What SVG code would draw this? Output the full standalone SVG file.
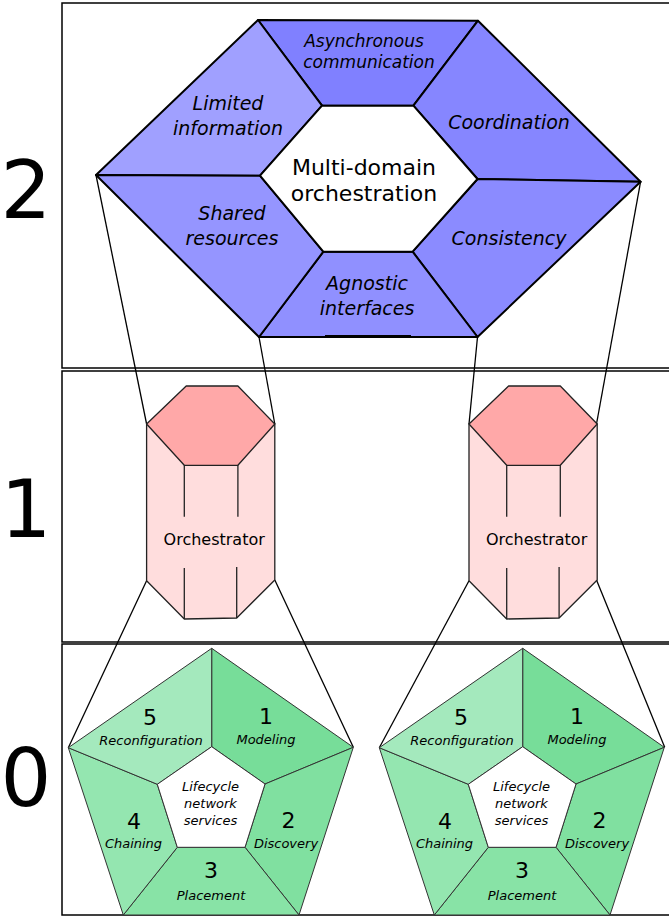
<svg xmlns="http://www.w3.org/2000/svg" width="669" height="916" viewBox="0 0 669 916">
<style>
.panel{fill:#fff;stroke:#000;stroke-width:1.5}
.hex{stroke:#000;stroke-width:2;stroke-linejoin:round}
.orc{stroke:#222;stroke-width:1.3;stroke-linejoin:round}
.pen{stroke:#333;stroke-width:1}
.conn{fill:none;stroke:#000;stroke-width:1.3}
text{font-family:"DejaVu Sans","Liberation Sans",sans-serif;fill:#000;text-anchor:middle}
.it{font-style:italic}
.lvl{font-size:80px}
.h{font-size:19px}
.ha{font-size:17px}
.hm{font-size:22px}
.o{font-size:16px}
.pn{font-size:22px}
.pl{font-size:13px}
</style>
<rect width="669" height="916" fill="#fff"/>
<g id="panels">
<rect class="panel" x="62" y="3" width="620" height="365"/>
<rect class="panel" x="62" y="371" width="620" height="271"/>
<rect class="panel" x="62" y="644" width="620" height="271"/>
</g>
<g id="levels">
<text class="lvl" x="26" y="218">2</text>
<text class="lvl" x="26" y="537">1</text>
<text class="lvl" x="26" y="806">0</text>
</g>
<g id="connectors">
<line class="conn" x1="96" y1="175" x2="146.6" y2="424"/>
<line class="conn" x1="259" y1="337" x2="274.8" y2="424"/>
<line class="conn" x1="477.5" y1="337" x2="469" y2="424"/>
<line class="conn" x1="640.6" y1="181.7" x2="596.5" y2="424"/>
<line class="conn" x1="146.6" y1="580.7" x2="68.3" y2="747.7"/>
<line class="conn" x1="274.8" y1="580" x2="353.3" y2="747.3"/>
<line class="conn" x1="469" y1="580.7" x2="379.3" y2="747.7"/>
<line class="conn" x1="596.5" y1="580" x2="664.7" y2="747.3"/>
</g>
<g id="multi-domain">
<polygon class="hex" fill="#8080ff" points="258,20 478,20.7 413.4,105.7 322,105.7"/>
<polygon class="hex" fill="#a0a0ff" points="258,20 322,105.7 260,175.7 96,175"/>
<polygon class="hex" fill="#8686ff" points="478,20.7 640.6,181.7 477.5,179 413.4,105.7"/>
<polygon class="hex" fill="#8b8bff" points="640.6,181.7 477.5,337 412.6,251.7 477.5,179"/>
<polygon class="hex" fill="#9090ff" points="477.5,337 259,337 323.3,251.7 412.6,251.7"/>
<polygon class="hex" fill="#9595ff" points="259,337 96,175 260,175.7 323.3,251.7"/>
<polygon class="hex" fill="#fff" points="322,105.7 413.4,105.7 477.5,179 412.6,251.7 323.3,251.7 260,175.7"/>
<line x1="325" y1="336" x2="411" y2="336" stroke="#000" stroke-width="2"/>
<text class="it ha" x="364" y="47">Asynchronous</text>
<text class="it ha" x="369" y="68">communication</text>
<text class="it h" x="228" y="110">Limited</text>
<text class="it h" x="228" y="135">information</text>
<text class="it h" x="509" y="129">Coordination</text>
<text class="hm" x="364" y="175">Multi-domain</text>
<text class="hm" x="364" y="201">orchestration</text>
<text class="it h" x="232" y="220">Shared</text>
<text class="it h" x="232" y="245">resources</text>
<text class="it h" x="509" y="245">Consistency</text>
<text class="it h" x="367" y="290">Agnostic</text>
<text class="it h" x="367" y="315">interfaces</text>
</g>
<g id="orchestrator-left">
<polygon class="orc" fill="#ffdddd" points="146.6,424 274.8,424 274.8,580 236.7,618 184.3,619 146.6,580.7"/>
<polygon class="orc" fill="#ffa8a8" points="186.2,386 237.9,386 274.8,424 237.9,465.3 184.3,465.3 146.6,424"/>
<line class="orc" x1="184.3" y1="465.3" x2="184.3" y2="516.7"/>
<line class="orc" x1="237.9" y1="465.3" x2="237.9" y2="516.7"/>
<line class="orc" x1="184.3" y1="568" x2="184.3" y2="619"/>
<line class="orc" x1="236.7" y1="567" x2="236.7" y2="618"/>
<text class="o" x="214.2" y="545">Orchestrator</text>
</g>
<g id="orchestrator-right" transform="translate(322.4,0)">
<polygon class="orc" fill="#ffdddd" points="146.6,424 274.8,424 274.8,580 236.7,618 184.3,619 146.6,580.7"/>
<polygon class="orc" fill="#ffa8a8" points="186.2,386 237.9,386 274.8,424 237.9,465.3 184.3,465.3 146.6,424"/>
<line class="orc" x1="184.3" y1="465.3" x2="184.3" y2="516.7"/>
<line class="orc" x1="237.9" y1="465.3" x2="237.9" y2="516.7"/>
<line class="orc" x1="184.3" y1="568" x2="184.3" y2="619"/>
<line class="orc" x1="236.7" y1="567" x2="236.7" y2="618"/>
<text class="o" x="214.2" y="545">Orchestrator</text>
</g>
<defs>
<g id="penta">
<polygon class="pen" fill="#77dd99" points="211.7,648.3 353.3,747.3 265,784 211.7,746.7"/>
<polygon class="pen" fill="#80e0a0" points="353.3,747.3 299,915 245,847.3 265,784"/>
<polygon class="pen" fill="#88e3a6" points="299,915 123.3,915 177.3,847.3 245,847.3"/>
<polygon class="pen" fill="#94e6b0" points="123.3,915 68.3,747.7 157.3,784.3 177.3,847.3"/>
<polygon class="pen" fill="#a4e9bd" points="68.3,747.7 211.7,648.3 211.7,746.7 157.3,784.3"/>
<polygon class="pen" fill="#fff" points="211.7,746.7 265,784 245,847.3 177.3,847.3 157.3,784.3"/>
<text class="pn" x="150" y="725">5</text>
<text class="it pl" x="151" y="745">Reconfiguration</text>
<text class="pn" x="266" y="724">1</text>
<text class="it pl" x="266" y="744">Modeling</text>
<text class="pn" x="288.5" y="828">2</text>
<text class="it pl" x="286" y="848">Discovery</text>
<text class="pn" x="211" y="878">3</text>
<text class="it pl" x="211" y="900">Placement</text>
<text class="pn" x="134" y="829">4</text>
<text class="it pl" x="133.5" y="848">Chaining</text>
<text class="it pl" x="210.5" y="791">Lifecycle</text>
<text class="it pl" x="210.5" y="808">network</text>
<text class="it pl" x="210.5" y="825">services</text>
</g>
</defs>
<g id="lifecycle-left"><use href="#penta"/></g>
<g id="lifecycle-right"><use href="#penta" transform="translate(311,0)"/></g>
</svg>
